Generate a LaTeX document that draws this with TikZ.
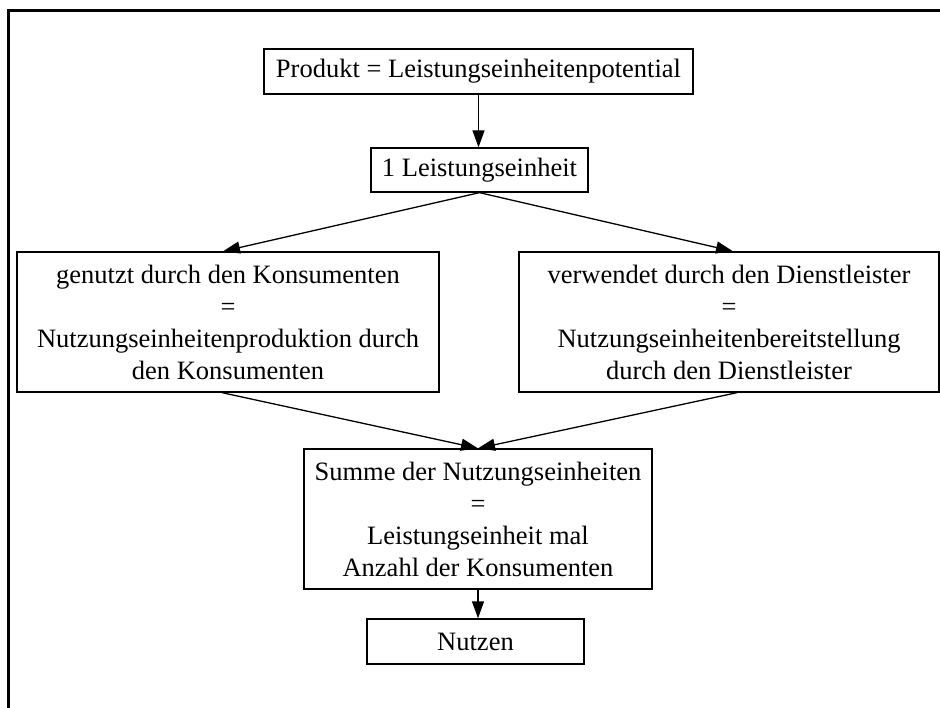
\documentclass[tikz,border=0pt]{standalone}
\usepackage{fontspec}
\setmainfont{Liberation Serif}
\usetikzlibrary{arrows.meta}
\begin{document}
\begin{tikzpicture}[x=1pt,y=-1pt,
  box/.style={draw=black,line width=1.3pt,inner sep=0pt,align=center,
    font=\fontsize{26.5}{32}\selectfont},
  flow/.style={line width=1.3pt,-{Triangle[length=17pt,width=12pt]}}]
  \useasboundingbox (0,0) rectangle (940,708);
  \clip (0,0) rectangle (940,708);
  % outer frame (continues past the right and lower page edges)
  \draw[line width=2.6pt] (8.7,760) -- (8.7,10.5) -- (990,10.5);

  \node[box,minimum width=429pt,minimum height=45pt] (prod) at (478.5,71.5)
    {Produkt = Leistungseinheitenpotential};
  \node[box,minimum width=217pt,minimum height=44pt] (le) at (479.5,170)
    {1 Leistungseinheit};
  \node[box,minimum width=422pt,minimum height=140pt] (kons) at (228,322)
    {genutzt durch den Konsumenten\\=\\Nutzungseinheitenproduktion durch\\den Konsumenten};
  \node[box,minimum width=420pt,minimum height=140pt] (dienst) at (729,322)
    {verwendet durch den Dienstleister\\=\\Nutzungseinheitenbereitstellung\\durch den Dienstleister};
  \node[box,minimum width=348pt,minimum height=140pt] (summe) at (478,519)
    {Summe der Nutzungseinheiten\\=\\Leistungseinheit mal\\Anzahl der Konsumenten};
  \node[box,minimum width=217pt,minimum height=45pt] (nutzen) at (475.5,641.5)
    {Nutzen};

  \draw[flow] (prod.south) -- (prod.south |- le.north);
  \draw[flow] (le.south) -- ([xshift=-5pt]kons.north);
  \draw[flow] (le.south) -- ([xshift=4pt]dienst.north);
  \draw[flow] ([xshift=-6pt]kons.south) -- (summe.north);
  \draw[flow] ([xshift=8pt]dienst.south) -- (summe.north);
  \draw[flow] (summe.south) -- (summe.south |- nutzen.north);
\end{tikzpicture}
\end{document}
